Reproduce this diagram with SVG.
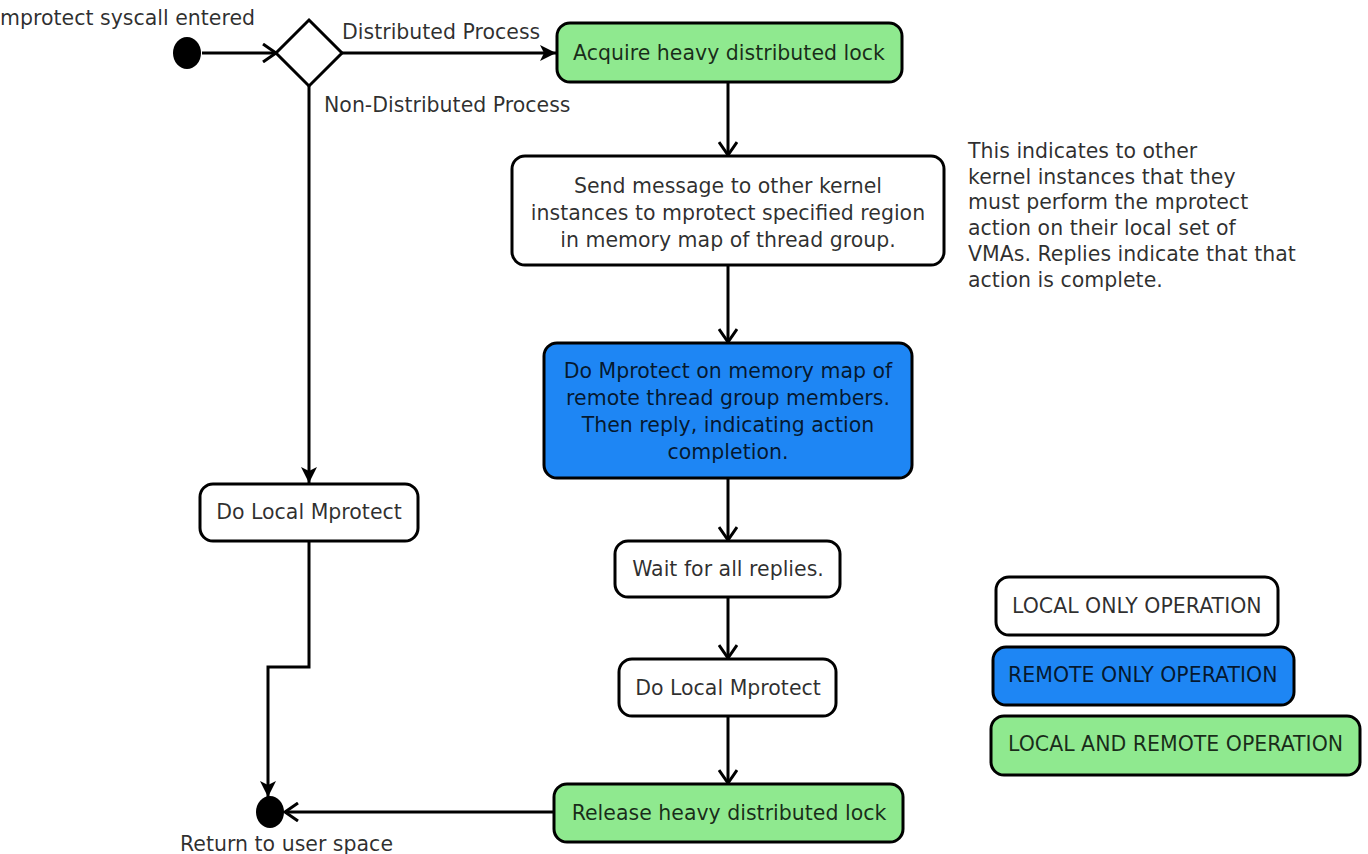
<svg xmlns="http://www.w3.org/2000/svg" width="1368" height="854" viewBox="0 0 1368 854">
  <style>
    .node { stroke: #000; stroke-width: 3; }
    .local { fill: #ffffff; }
    .remote { fill: #1e86f4; }
    .both { fill: #8fe98f; }
    .lbl { font-family: "DejaVu Sans", "Liberation Sans", sans-serif; font-size: 20.5px; fill: #000; fill-opacity: 0.82; }
    .mid { text-anchor: middle; }
    .edge { fill: none; stroke: #000; stroke-width: 3; }
  </style>
  <defs>
    <marker id="open" markerWidth="18" markerHeight="20" refX="15" refY="10" orient="auto" markerUnits="userSpaceOnUse">
      <path d="M2,1 L15,10 L2,19" fill="none" stroke="#000" stroke-width="3"/>
    </marker>
    <marker id="solid" markerWidth="20" markerHeight="20" refX="17" refY="10" orient="auto" markerUnits="userSpaceOnUse">
      <path d="M1,2 L17,10 L1,18 L5,10 Z" fill="#000"/>
    </marker>
  </defs>

  <rect width="1368" height="854" fill="#ffffff"/>

  <!-- connectors -->
  <g id="connectors">
    <line class="edge" x1="202" y1="53" x2="276" y2="53" marker-end="url(#open)"/>
    <line class="edge" x1="341" y1="53" x2="556" y2="53" marker-end="url(#solid)"/>
    <line class="edge" x1="309" y1="86" x2="309" y2="483" marker-end="url(#solid)"/>
    <polyline class="edge" points="309,542 309,667 268,667 268,797" marker-end="url(#solid)"/>
    <line class="edge" x1="728" y1="83" x2="728" y2="155" marker-end="url(#open)"/>
    <line class="edge" x1="728" y1="266" x2="728" y2="342" marker-end="url(#open)"/>
    <line class="edge" x1="728" y1="479" x2="728" y2="540" marker-end="url(#open)"/>
    <line class="edge" x1="728" y1="598" x2="728" y2="658" marker-end="url(#open)"/>
    <line class="edge" x1="728" y1="717" x2="728" y2="783" marker-end="url(#open)"/>
    <line class="edge" x1="553" y1="812" x2="285" y2="812" marker-end="url(#open)"/>
    <text class="lbl" x="342" y="39">Distributed Process</text>
    <text class="lbl" x="324" y="112">Non-Distributed Process</text>
  </g>

  <!-- start -->
  <g id="start">
    <ellipse cx="187" cy="53" rx="14" ry="16" fill="#000"/>
    <text class="lbl" x="0" y="25">mprotect syscall entered</text>
  </g>

  <!-- decision -->
  <g id="decision">
    <polygon class="node" points="309,20 342,53 309,86 276,53" fill="#ffffff"/>
  </g>

  <g id="acquire-lock">
    <rect class="node both" x="557" y="23" width="345" height="59" rx="13"/>
    <text class="lbl mid" x="729" y="60">Acquire heavy distributed lock</text>
  </g>

  <g id="send-message">
    <rect class="node local" x="512" y="156" width="432" height="109" rx="13"/>
    <text class="lbl mid" x="728" y="193">Send message to other kernel</text>
    <text class="lbl mid" x="728" y="220">instances to mprotect specified region</text>
    <text class="lbl mid" x="728" y="247">in memory map of thread group.</text>
  </g>

  <g id="remote-mprotect">
    <rect class="node remote" x="544" y="343" width="368" height="135" rx="13"/>
    <text class="lbl mid" x="728" y="378">Do Mprotect on memory map of</text>
    <text class="lbl mid" x="728" y="405">remote thread group members.</text>
    <text class="lbl mid" x="728" y="432">Then reply, indicating action</text>
    <text class="lbl mid" x="728" y="459">completion.</text>
  </g>

  <g id="wait-replies">
    <rect class="node local" x="615" y="541" width="225" height="56" rx="13"/>
    <text class="lbl mid" x="728" y="576">Wait for all replies.</text>
  </g>

  <g id="local-mprotect-distributed">
    <rect class="node local" x="619" y="659" width="217" height="57" rx="13"/>
    <text class="lbl mid" x="728" y="695">Do Local Mprotect</text>
  </g>

  <g id="release-lock">
    <rect class="node both" x="554" y="784" width="349" height="58" rx="13"/>
    <text class="lbl mid" x="729" y="820">Release heavy distributed lock</text>
  </g>

  <g id="local-mprotect">
    <rect class="node local" x="200" y="484" width="218" height="57" rx="13"/>
    <text class="lbl mid" x="309" y="519">Do Local Mprotect</text>
  </g>

  <!-- end -->
  <g id="end">
    <ellipse cx="270" cy="812" rx="14" ry="16" fill="#000"/>
    <text class="lbl" x="180" y="851">Return to user space</text>
  </g>

  <!-- note -->
  <g id="note">
    <text class="lbl" x="968" y="158">This indicates to other</text>
    <text class="lbl" x="968" y="184">kernel instances that they</text>
    <text class="lbl" x="968" y="209">must perform the mprotect</text>
    <text class="lbl" x="968" y="235">action on their local set of</text>
    <text class="lbl" x="968" y="261">VMAs. Replies indicate that that</text>
    <text class="lbl" x="968" y="287">action is complete.</text>
  </g>

  <!-- legend -->
  <g id="legend-local">
    <rect class="node local" x="996" y="577" width="282" height="58" rx="13"/>
    <text class="lbl" x="1012" y="613">LOCAL ONLY OPERATION</text>
  </g>
  <g id="legend-remote">
    <rect class="node remote" x="993" y="647" width="301" height="58" rx="13"/>
    <text class="lbl" x="1008" y="682">REMOTE ONLY OPERATION</text>
  </g>
  <g id="legend-both">
    <rect class="node both" x="991" y="716" width="369" height="59" rx="13"/>
    <text class="lbl" x="1008" y="751">LOCAL AND REMOTE OPERATION</text>
  </g>
</svg>
